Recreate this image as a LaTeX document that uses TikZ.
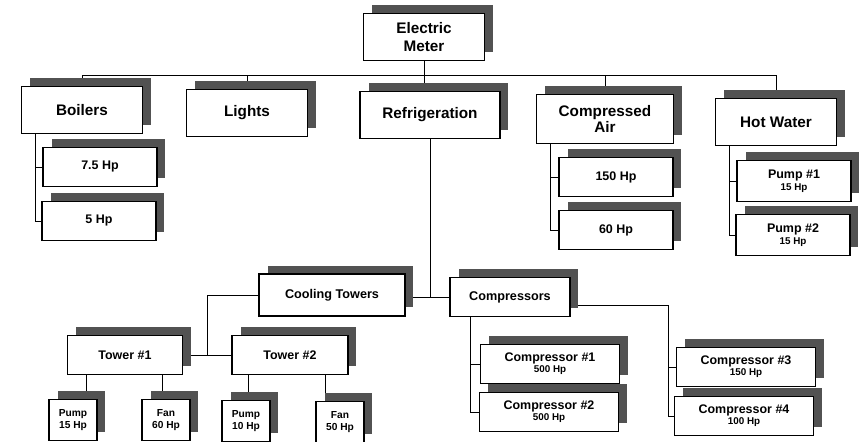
\documentclass[tikz,border=0pt]{standalone}
\usepackage{fontspec}
\setmainfont{Liberation Sans}
\usetikzlibrary{shadows,calc,backgrounds}

\definecolor{shadowgray}{RGB}{82,82,82}
\newcommand{\hpline}[1]{\\{\fontsize{5.6}{6}\selectfont #1}}

\begin{document}
\begin{tikzpicture}[x=0.02cm, y=-0.02cm, line width=0.6pt,
		unit/.style={draw, fill=white, line width=0.7pt, inner sep=1pt, align=center,
			general shadow={fill=shadowgray, shadow xshift=0.17cm, shadow yshift=0.17cm}},
		area/.style={unit, minimum width=2.42cm, minimum height=0.94cm, font=\fontsize{8.7}{10.2}\selectfont\bfseries},
		load/.style={unit, minimum width=2.28cm, minimum height=0.78cm, font=\fontsize{7.1}{6.6}\selectfont\bfseries},
		group/.style={unit, minimum height=0.84cm, font=\fontsize{7.2}{8}\selectfont\bfseries},
		tower/.style={unit, minimum width=2.3cm, minimum height=0.78cm, font=\fontsize{7.1}{8}\selectfont\bfseries},
		comp/.style={unit, minimum width=2.78cm, minimum height=0.78cm, font=\fontsize{7.1}{6.4}\selectfont\bfseries},
		part/.style={unit, minimum width=0.96cm, minimum height=0.82cm, font=\fontsize{5.8}{6.4}\selectfont\bfseries}]
	\useasboundingbox (0,0) rectangle (865,442);

	\node [area] (meter) at (424,37) {Electric\\Meter};
	\node [area] (boilers) at (82,110) {Boilers};
	\node [area] (lights) at (247,113) {Lights};
	\node [area, minimum width=2.8cm] (refrig) at (430,115) {Refrigeration};
	\node [area, minimum width=2.74cm, minimum height=0.98cm, font=\fontsize{8.7}{8.6}\selectfont\bfseries] (air) at (605,119) {Compressed\\Air};
	\node [area] (hot) at (776,122) {Hot Water};

	\node [load] (hp75) at (100,167) {7.5 Hp};
	\node [load] (hp5) at (99,221) {5 Hp};
	\node [load] (hp150) at (616,177) {150 Hp};
	\node [load] (hp60) at (616,230) {60 Hp};
	\node [load, minimum height=0.82cm] (pump1) at (794,181) {Pump \#1\hpline{15 Hp}};
	\node [load, minimum height=0.82cm] (pump2) at (793,235) {Pump \#2\hpline{15 Hp}};

	\node [group, minimum width=2.92cm] (cooling) at (332,295) {Cooling Towers};
	\node [group, minimum width=2.4cm, minimum height=0.78cm] (comps) at (510,297) {Compressors};

	\node [tower] (tower1) at (125,355) {Tower \#1};
	\node [tower, minimum width=2.32cm] (tower2) at (290,355) {Tower \#2};

	\node [part] (pumpa) at (73,420) {Pump\\15 Hp};
	\node [part] (fana) at (166,420) {Fan\\60 Hp};
	\node [part] (pumpb) at (246,421) {Pump\\10 Hp};
	\node [part] (fanb) at (340,422) {Fan\\50 Hp};

	\node [comp] (comp1) at (550,364) {Compressor \#1\hpline{500 Hp}};
	\node [comp] (comp2) at (549,412) {Compressor \#2\hpline{500 Hp}};
	\node [comp] (comp3) at (746,367) {Compressor \#3\hpline{150 Hp}};
	\node [comp] (comp4) at (744,416) {Compressor \#4\hpline{100 Hp}};

	\begin{pgfonlayer}{background}
		\coordinate (bus) at (424,75);
		\draw (meter.south) -- (bus);
		\foreach \n in {boilers,lights,air,hot}
			\draw (bus) -| (\n.north);
		\draw (bus) -- (bus |- refrig.north);

		\draw ([xshift=0.28cm]boilers.south west) |- (hp5.west);
		\draw (hp75.west) -- ([xshift=0.28cm]boilers.south west |- hp75.west);
		\draw ([xshift=0.28cm]air.south west) |- (hp60.west);
		\draw (hp150.west) -- ([xshift=0.28cm]air.south west |- hp150.west);
		\draw ([xshift=0.28cm]hot.south west) |- (pump2.west);
		\draw (pump1.west) -- ([xshift=0.28cm]hot.south west |- pump1.west);

		\draw (refrig.south) -- (refrig.south |- comps.west);
		\draw (cooling.east |- comps.west) -- (comps.west);
		\draw (cooling.west) -| ($(tower1.east)!0.5!(tower2.west)$);
		\draw (tower1.east) -- (tower2.west);

		\draw ([xshift=0.26cm]pumpa.north) -- ([xshift=0.26cm]pumpa.north |- tower1.south);
		\draw ([xshift=-0.08cm]fana.north) -- ([xshift=-0.08cm]fana.north |- tower1.south);
		\draw ([xshift=0.05cm]pumpb.north) -- ([xshift=0.05cm]pumpb.north |- tower2.south);
		\draw ([xshift=-0.3cm]fanb.north) -- ([xshift=-0.3cm]fanb.north |- tower2.south);

		\draw ([xshift=0.42cm]comps.south west) |- (comp2.west);
		\draw (comp1.west) -- ([xshift=0.42cm]comps.south west |- comp1.west);
		\draw ([yshift=-0.16cm]comps.east) -| ([xshift=-0.12cm]comp4.west) -- (comp4.west);
		\draw (comp3.west) -- ([xshift=-0.12cm]comp4.west |- comp3.west);
	\end{pgfonlayer}
\end{tikzpicture}
\end{document}
